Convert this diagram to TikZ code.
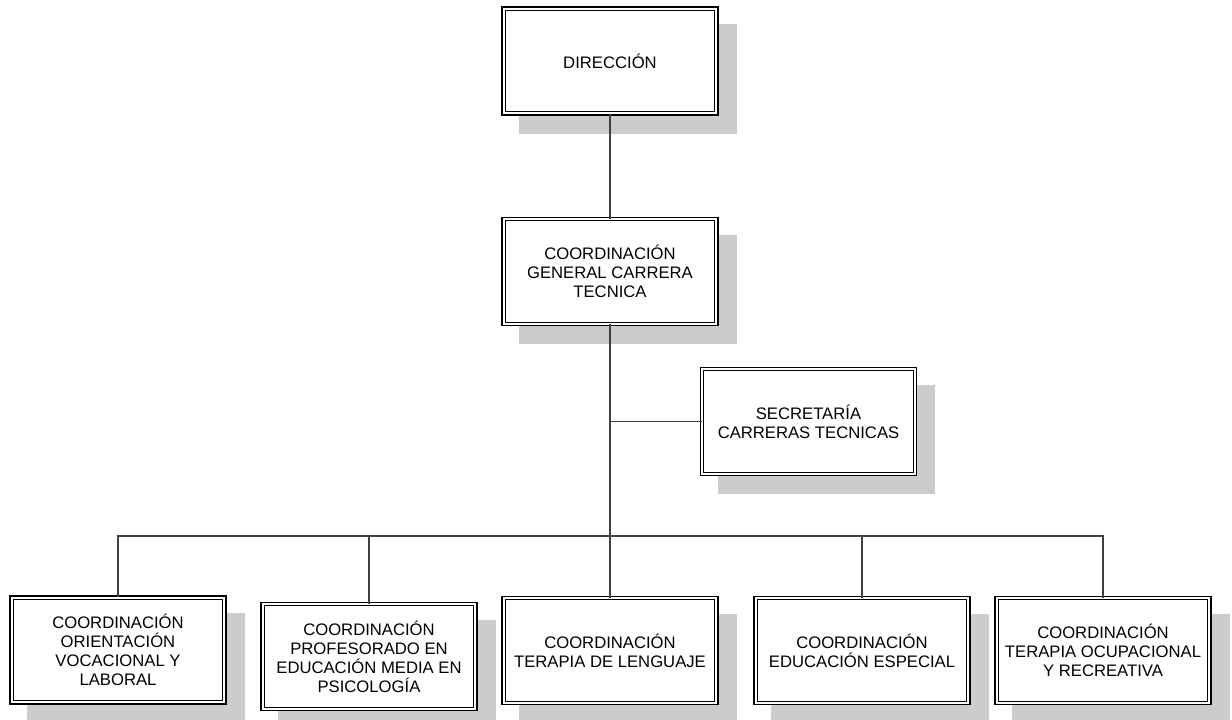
\documentclass[tikz,border=0pt]{standalone}
\usepackage{fontspec}
\setmainfont{Liberation Sans}
\usetikzlibrary{shadows}
\definecolor{shadowc}{HTML}{CCCCCC}
\definecolor{linec}{HTML}{404040}
\tikzset{
  orgbox/.style={rectangle, draw=black, fill=white, line width=0.8pt, double=white, double distance=1.6pt,
    minimum width=159.6pt, minimum height=78.6pt, inner sep=2pt, align=center,
    font=\fontsize{12.5pt}{14.3pt}\selectfont,
    drop shadow={shadow xshift=13.5pt, shadow yshift=-13.5pt, fill=shadowc, draw=shadowc, line width=3.2pt, opacity=1}},
  conn/.style={draw=linec, line width=0.9pt}
}
\begin{document}
\begin{tikzpicture}[x=0.75pt, y=-0.75pt]
\useasboundingbox (0,0) rectangle (1232,719);
\node[orgbox] (dir) at (610,61) {DIRECCIÓN};
\node[orgbox] (cg) at (610,271.5) {COORDINACIÓN\\GENERAL CARRERA\\TECNICA};
\node[orgbox] (sec) at (808.5,421.5) {SECRETARÍA\\CARRERAS TECNICAS};
\node[orgbox] (b1) at (118,650) {COORDINACIÓN\\ORIENTACIÓN\\VOCACIONAL Y\\LABORAL};
\node[orgbox] (b2) at (369,656.5) {COORDINACIÓN\\PROFESORADO EN\\EDUCACIÓN MEDIA EN\\PSICOLOGÍA};
\node[orgbox] (b3) at (610,650.5) {COORDINACIÓN\\TERAPIA DE LENGUAJE};
\node[orgbox] (b4) at (862,650.5) {COORDINACIÓN\\EDUCACIÓN ESPECIAL};
\node[orgbox] (b5) at (1103,650.5) {COORDINACIÓN\\TERAPIA OCUPACIONAL\\Y RECREATIVA};
\coordinate (bus) at (610,536);
\draw[conn] (dir.south) -- (cg.north);
\draw[conn] (cg.south) -- (bus);
\draw[conn] (sec.west) -- (sec.west -| cg.south);
\draw[conn] (b1.north) |- (bus) -| (b5.north);
\draw[conn] (b2.north) -- (b2.north |- bus);
\draw[conn] (b4.north) -- (b4.north |- bus);
\draw[conn] (bus) -- (b3.north);
\end{tikzpicture}
\end{document}
